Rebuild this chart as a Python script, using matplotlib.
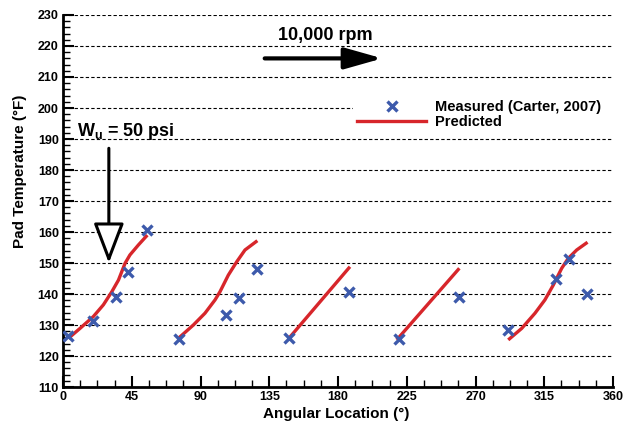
import matplotlib
matplotlib.use("Agg")
import matplotlib.pyplot as plt
from matplotlib.lines import Line2D
from matplotlib.ticker import MultipleLocator

plt.rcParams['font.family'] = ['Liberation Sans', 'DejaVu Sans']
plt.rcParams['font.weight'] = 'bold'
plt.rcParams['mathtext.fontset'] = 'custom'
plt.rcParams['mathtext.rm'] = 'Liberation Sans:bold'
plt.rcParams['mathtext.bf'] = 'Liberation Sans:bold'

# measured pad temperatures (Carter, 2007)
meas_x = [3.5, 19.8, 35, 42.7, 54.8, 76, 107, 115, 127, 148, 187, 220, 259, 291.4, 322.6, 331.2, 342.7]
meas_y = [126.5, 131.4, 139.1, 147.2, 160.6, 125.5, 133.2, 138.6, 148.2, 125.8, 140.7, 125.5, 139.1, 128.4, 145.0, 151.2, 139.9]

# predicted curves, one per pad
pred_x = [
    [3.5, 11.1, 19.8, 26.4, 31.9, 36.3, 40.6, 43.8, 49.3, 55.2],
    [75.5, 85.3, 92.9, 99.5, 102.7, 108.2, 113.7, 119.1, 127.2],
    [148.0, 187.8],
    [218.4, 259.4],
    [291.4, 300.2, 308.9, 315.4, 320.9, 326.4, 330.7, 336.2, 343.3],
]
pred_y = [
    [125.7, 128.9, 132.7, 136.5, 140.7, 144.5, 149.9, 152.6, 155.8, 159.0],
    [125.7, 130.0, 133.8, 138.1, 140.7, 146.1, 150.4, 154.2, 157.2],
    [125.8, 148.8],
    [125.2, 148.3],
    [125.2, 128.9, 133.8, 138.1, 142.9, 148.3, 151.5, 154.2, 156.7],
]

red = '#d7262b'
blue = '#3d5aab'

fig = plt.figure(figsize=(6.32, 4.26), dpi=100)
ax = fig.add_axes([0.0997, 0.0915, 0.8703, 0.8733])

for xs, ys in zip(pred_x, pred_y):
    ax.plot(xs, ys, color=red, lw=2.4, solid_capstyle='butt', solid_joinstyle='round', zorder=3)
ax.plot(meas_x, meas_y, ls='none', marker='x', ms=6.5, mew=2.4, color=blue, zorder=4)

ax.set_xlim(0, 360)
ax.set_ylim(110, 230)
ax.xaxis.set_major_locator(MultipleLocator(45))
ax.xaxis.set_minor_locator(MultipleLocator(11.25))
ax.yaxis.set_major_locator(MultipleLocator(10))
ax.yaxis.set_minor_locator(MultipleLocator(2))
ax.tick_params(which='major', direction='in', length=8, width=1.5, labelsize=9, pad=3)
ax.tick_params(which='minor', direction='in', length=5, width=1.0)
for lab in ax.get_xticklabels() + ax.get_yticklabels():
    lab.set_fontweight('bold')

for s in ['top', 'right']:
    ax.spines[s].set_visible(False)
for s in ['left', 'bottom']:
    ax.spines[s].set_linewidth(2)

ax.yaxis.grid(True, ls=(0, (3, 2)), color='black', lw=0.8)
ax.set_axisbelow(True)

ax.set_xlabel('Angular Location (°)', fontsize=11, fontweight='bold')
ax.set_ylabel('Pad Temperature (°F)', fontsize=11, fontweight='bold')
ax.xaxis.set_label_coords(0.497, -0.054)
ax.yaxis.set_label_coords(-0.066, 0.581)

# rotation direction arrow
ax.annotate('', xy=(209, 216), xytext=(132, 216),
            arrowprops=dict(arrowstyle='-|>,head_length=2.3,head_width=0.65',
                            lw=3, color='black', shrinkA=0, shrinkB=0))
ax.text(172, 223.5, '10,000 rpm', fontsize=13, fontweight='bold', ha='center', va='center')

# load arrow
ax.annotate('', xy=(30, 150), xytext=(30, 187),
            arrowprops=dict(arrowstyle='-|>,head_length=2.5,head_width=0.95',
                            lw=2.2, ec='black', fc='white', shrinkA=0, shrinkB=0))
ax.text(9, 192.5, r'W$_\mathbf{u}$ = 50 psi', fontsize=13, fontweight='bold', ha='left', va='center')

handles = [Line2D([], [], ls='none', marker='x', ms=6.5, mew=2.4, color=blue),
           Line2D([], [], color=red, lw=2.4)]
leg = ax.legend(handles, ['Measured (Carter, 2007)', 'Predicted'],
                loc='upper left', bbox_to_anchor=(0.527, 0.60, 0.473, 0.182), mode='expand',
                frameon=True, fancybox=False, framealpha=1, edgecolor='none', facecolor='white',
                prop={'weight': 'bold', 'size': 10.5}, handlelength=4.7,
                handletextpad=0.62, labelspacing=0.05, borderpad=0.3, borderaxespad=0)

fig.savefig('out.png', dpi=100)
